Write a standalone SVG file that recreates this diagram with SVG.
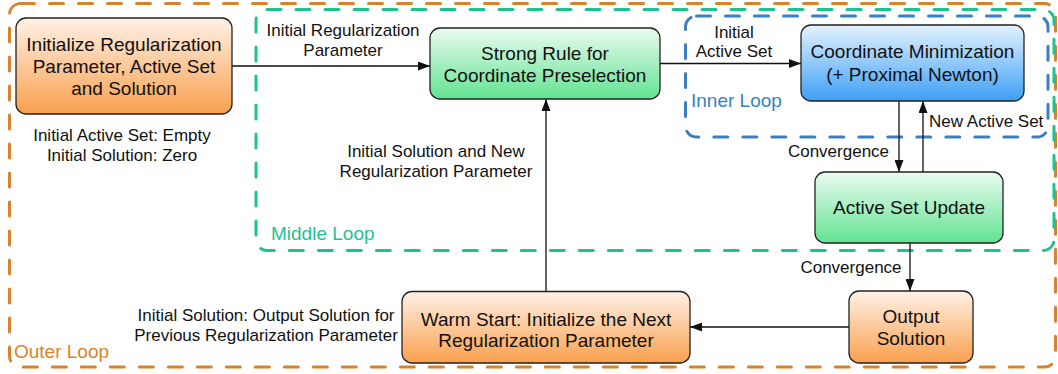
<svg xmlns="http://www.w3.org/2000/svg" width="1058" height="374" viewBox="0 0 1058 374">
  <defs>
    <linearGradient id="gOrange" x1="0" y1="0" x2="0" y2="1">
      <stop offset="0" stop-color="#fff1e6"/>
      <stop offset="1" stop-color="#f9a04e"/>
    </linearGradient>
    <linearGradient id="gGreen" x1="0" y1="0" x2="0" y2="1">
      <stop offset="0" stop-color="#eafbf0"/>
      <stop offset="1" stop-color="#62e392"/>
    </linearGradient>
    <linearGradient id="gBlue" x1="0" y1="0" x2="0" y2="1">
      <stop offset="0" stop-color="#e4f2ff"/>
      <stop offset="1" stop-color="#3d9ff5"/>
    </linearGradient>
    <marker id="arrow" markerUnits="userSpaceOnUse" markerWidth="12" markerHeight="9" refX="12" refY="4.5" orient="auto">
      <path d="M0,0 L12,4.5 L0,9 z" fill="#111"/>
    </marker>
    <style>
      .node { stroke: #222; stroke-width: 1.3; }
      .orange { fill: url(#gOrange); }
      .green { fill: url(#gGreen); }
      .blue { fill: url(#gBlue); }
      .t { font-family: "Liberation Sans", Arial, sans-serif; font-size: 19px; fill: #111; text-anchor: middle; }
      .lbl { font-family: "Liberation Sans", Arial, sans-serif; font-size: 17px; fill: #111; text-anchor: middle; }
      .loop { fill: none; stroke-width: 3; stroke-dasharray: 14 15; stroke-linecap: round; }
      .looplbl { font-family: "Liberation Sans", Arial, sans-serif; font-size: 19px; }
      .edge { fill: none; stroke: #111; stroke-width: 1.3; marker-end: url(#arrow); }
    </style>
  </defs>

  <!-- loop regions -->
  <g id="loops">
    <rect class="loop" x="9.5" y="3.5" width="1046" height="363.5" rx="11" stroke="#d9822b"/>
    <rect class="loop" x="256" y="9.5" width="798" height="241" rx="11" stroke="#1dc28f"/>
    <rect class="loop" x="685.5" y="16" width="362.5" height="121" rx="11" stroke="#3a80c1"/>
    <text class="looplbl" x="14" y="358" fill="#d9822b">Outer Loop</text>
    <text class="looplbl" x="271" y="240" fill="#1dc28f">Middle Loop</text>
    <text class="looplbl" x="691" y="107" fill="#3a80c1">Inner Loop</text>
  </g>

  <!-- connectors -->
  <g id="edges">
    <path class="edge" d="M232,66 H430"/>
    <path class="edge" d="M660,63.5 H801"/>
    <path class="edge" d="M899,101 V172"/>
    <path class="edge" d="M923,172 V101"/>
    <path class="edge" d="M910,243 V291"/>
    <path class="edge" d="M849,327 H690"/>
    <path class="edge" d="M546,291.5 V99"/>
  </g>

  <!-- edge labels -->
  <g id="labels">
    <text class="lbl" x="122" y="141">Initial Active Set: Empty</text>
    <text class="lbl" x="122" y="161">Initial Solution: Zero</text>
    <text class="lbl" x="343" y="36">Initial Regularization</text>
    <text class="lbl" x="343" y="56">Parameter</text>
    <text class="lbl" x="734" y="38">Initial</text>
    <text class="lbl" x="734" y="57">Active Set</text>
    <text class="lbl" x="929" y="127" style="text-anchor:start">New Active Set</text>
    <text class="lbl" x="838.5" y="157">Convergence</text>
    <text class="lbl" x="851" y="273">Convergence</text>
    <text class="lbl" x="436" y="157">Initial Solution and New</text>
    <text class="lbl" x="436" y="177">Regularization Parameter</text>
    <text class="lbl" x="266" y="321">Initial Solution: Output Solution for</text>
    <text class="lbl" x="266" y="341">Previous Regularization Parameter</text>
  </g>

  <!-- nodes -->
  <g id="init">
    <rect class="node orange" x="16" y="18" width="216" height="96" rx="10"/>
    <text class="t" x="124" y="51">Initialize Regularization</text>
    <text class="t" x="124" y="73">Parameter, Active Set</text>
    <text class="t" x="124" y="95">and Solution</text>
  </g>
  <g id="strong-rule">
    <rect class="node green" x="430" y="28" width="230" height="71" rx="10"/>
    <text class="t" x="545" y="60">Strong Rule for</text>
    <text class="t" x="545" y="82">Coordinate Preselection</text>
  </g>
  <g id="coord-min">
    <rect class="node blue" x="801" y="25" width="223" height="76" rx="10"/>
    <text class="t" x="912.5" y="58">Coordinate Minimization</text>
    <text class="t" x="912.5" y="81">(+ Proximal Newton)</text>
  </g>
  <g id="active-set-update">
    <rect class="node green" x="815" y="172" width="188" height="71" rx="10"/>
    <text class="t" x="909" y="214">Active Set Update</text>
  </g>
  <g id="output">
    <rect class="node orange" x="849" y="291" width="124" height="72" rx="10"/>
    <text class="t" x="911" y="323">Output</text>
    <text class="t" x="911" y="345">Solution</text>
  </g>
  <g id="warm-start">
    <rect class="node orange" x="402" y="291.5" width="288" height="71.5" rx="10"/>
    <text class="t" x="546" y="326">Warm Start: Initialize the Next</text>
    <text class="t" x="546" y="347">Regularization Parameter</text>
  </g>
</svg>
